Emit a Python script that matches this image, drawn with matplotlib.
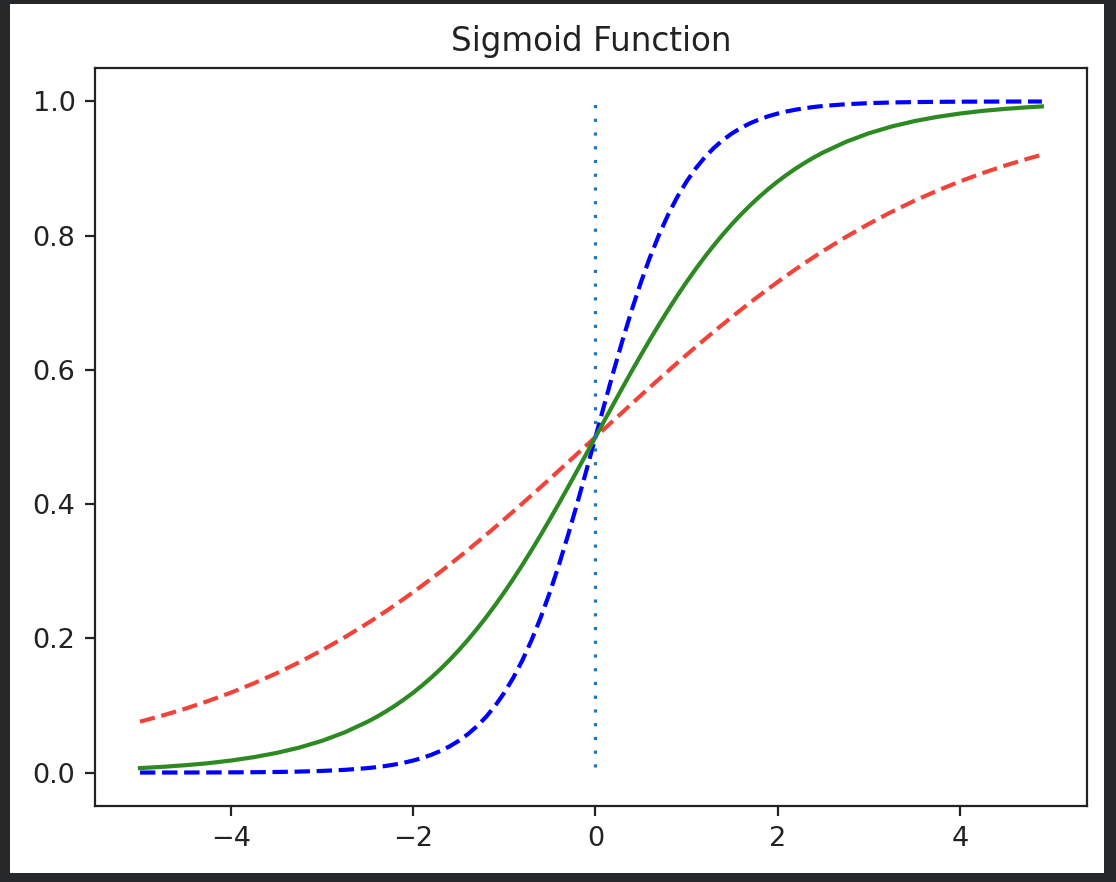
import matplotlib
matplotlib.use("Agg")
import matplotlib.pyplot as plt
from matplotlib.patches import Rectangle

# x positions where the curves were read (denser in the steep middle part)
x = [-5.0, -4.75, -4.5, -4.25, -4.0, -3.75, -3.5, -3.25, -3.0, -2.75, -2.5,
     -2.4, -2.3, -2.2, -2.1, -2.0, -1.9, -1.8, -1.7, -1.6, -1.5, -1.4, -1.3, -1.2, -1.1,
     -1.0, -0.9, -0.8, -0.7, -0.6, -0.5, -0.4, -0.3, -0.2, -0.1,
     0.0, 0.1, 0.2, 0.3, 0.4, 0.5, 0.6, 0.7, 0.8, 0.9,
     1.0, 1.1, 1.2, 1.3, 1.4, 1.5, 1.6, 1.7, 1.8, 1.9, 2.0, 2.1, 2.2, 2.3, 2.4,
     2.5, 2.75, 3.0, 3.25, 3.5, 3.75, 4.0, 4.25, 4.5, 4.75, 4.9]

# steep curve (blue dashed)
y_steep = [0.00005, 0.00007, 0.00012, 0.0002, 0.00034, 0.00055, 0.0009, 0.0015, 0.0025, 0.0041, 0.0067,
           0.00816, 0.00995, 0.01213, 0.01478, 0.01799, 0.02188, 0.0266, 0.0323, 0.03917, 0.04743, 0.05733, 0.06914, 0.08318, 0.09975,
           0.1192, 0.14185, 0.16798, 0.19782, 0.23148, 0.26894, 0.31003, 0.35434, 0.40131, 0.45017,
           0.5, 0.54983, 0.59869, 0.64566, 0.68997, 0.73106, 0.76852, 0.80218, 0.83202, 0.85815,
           0.8808, 0.90025, 0.91682, 0.93086, 0.94267, 0.95257, 0.96083, 0.9677, 0.9734, 0.97812, 0.98201, 0.98522, 0.98787, 0.99005, 0.99184,
           0.9933, 0.9959, 0.9975, 0.9985, 0.9991, 0.99945, 0.99966, 0.9998, 0.99988, 0.99993, 0.99994]

# standard curve (green solid)
y_std = [0.0067, 0.0086, 0.011, 0.014, 0.018, 0.023, 0.0293, 0.0373, 0.0474, 0.0601, 0.0759,
         0.08318, 0.09113, 0.09975, 0.1091, 0.1192, 0.13011, 0.14185, 0.15447, 0.16798, 0.18243, 0.19782, 0.21417, 0.23148, 0.24974,
         0.26894, 0.28905, 0.31003, 0.33181, 0.35434, 0.37754, 0.40131, 0.42556, 0.45017, 0.47502,
         0.5, 0.52498, 0.54983, 0.57444, 0.59869, 0.62246, 0.64566, 0.66819, 0.68997, 0.71095,
         0.73106, 0.75026, 0.76852, 0.78583, 0.80218, 0.81757, 0.83202, 0.84553, 0.85815, 0.86989, 0.8808, 0.8909, 0.90025, 0.90887, 0.91682,
         0.9241, 0.9399, 0.9526, 0.9627, 0.9707, 0.977, 0.982, 0.986, 0.989, 0.9914, 0.9926]

# flat curve (red dashed)
y_flat = [0.0759, 0.0851, 0.0953, 0.1067, 0.1192, 0.133, 0.148, 0.1645, 0.1824, 0.2018, 0.2227,
          0.23148, 0.24049, 0.24974, 0.25923, 0.26894, 0.27889, 0.28905, 0.29943, 0.31003, 0.32082, 0.33181, 0.34299, 0.35434, 0.36586,
          0.37754, 0.38936, 0.40131, 0.41338, 0.42556, 0.43782, 0.45017, 0.46257, 0.47502, 0.4875,
          0.5, 0.5125, 0.52498, 0.53743, 0.54983, 0.56218, 0.57444, 0.58662, 0.59869, 0.61064,
          0.62246, 0.63414, 0.64566, 0.65701, 0.66819, 0.67918, 0.68997, 0.70057, 0.71095, 0.72111, 0.73106, 0.74077, 0.75026, 0.75951, 0.76852,
          0.7773, 0.7982, 0.8176, 0.8355, 0.852, 0.867, 0.8808, 0.8933, 0.9047, 0.9149, 0.9206]

vline_x = 0.0
vline_ymin = 0.008
vline_ymax = 1.0

fig = plt.figure(figsize=(11.16, 8.82), dpi=100)
fig.patch.set_facecolor("#27282a")
fig.patches.append(Rectangle((0.009, 0.0102), 0.9803, 0.9853, transform=fig.transFigure,
                             facecolor="white", edgecolor="none", zorder=-10))

ax = fig.add_axes([0.085, 0.086, 0.889, 0.837])
ax.plot(x, y_steep, "b--", lw=3)
ax.plot(x, y_flat, "--", color="#f03a30", lw=3, alpha=0.95)
ax.plot(x, y_std, color="#2d8a22", lw=3)
ax.vlines(vline_x, vline_ymin, vline_ymax, linestyles=[(0, (1, 3.3))], colors="C0", lw=2.3)

ax.set_xlim(-5.495, 5.395)
ax.set_ylim(-0.05, 1.05)
ax.set_xticks([-4, -2, 0, 2, 4])
ax.set_xticklabels(["\u22124", "\u22122", "0", "2", "4"])
ax.set_yticks([0.0, 0.2, 0.4, 0.6, 0.8, 1.0])
ax.tick_params(labelsize=19.5, length=7, width=1.6, pad=7, colors="#222222")
for s in ax.spines.values():
    s.set_linewidth(1.6)
    s.set_color("#222222")
ax.set_title("Sigmoid Function", fontsize=23.5, pad=12, color="#222222")

fig.savefig("out.png", dpi=100, facecolor=fig.get_facecolor())
